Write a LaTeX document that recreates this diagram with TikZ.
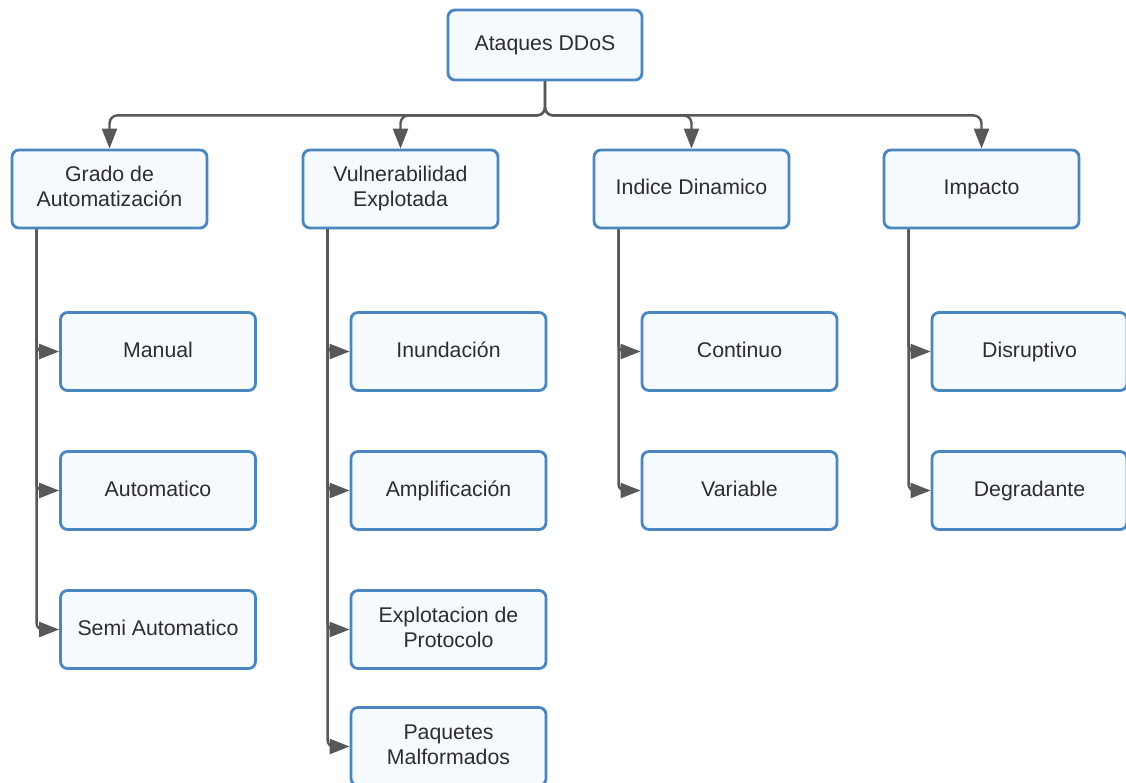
\documentclass[tikz,border=0pt]{standalone}
\usepackage{fontspec}
\setmainfont{Liberation Sans}
\usetikzlibrary{arrows.meta,calc}
\definecolor{boxedge}{RGB}{74,134,192}
\definecolor{boxfill}{RGB}{245,250,255}
\definecolor{linkgray}{RGB}{88,88,88}
\definecolor{textgray}{RGB}{45,45,45}
% two centred lines, lifted a little inside the box
\newcommand\twolines[2]{\raisebox{2pt}{\begin{tabular}{@{}c@{}}#1\\#2\end{tabular}}}
\begin{document}
\begin{tikzpicture}[x=1pt,y=-1pt,
  box/.style={draw=boxedge,fill=boxfill,line width=2.8pt,rounded corners=7pt,
    minimum width=195pt,minimum height=78pt,inner sep=0pt,
    text=textgray,font=\fontsize{21.3}{25}\selectfont},
  oneline/.style={text height=15.5pt,text depth=4.5pt},
  rootbox/.style={box,oneline,minimum width=194pt,minimum height=70pt},
  conn/.style={draw=linkgray,line width=2.4pt,rounded corners=8pt,
    -{Triangle[length=20pt,width=15pt]}},
  leaf/.style={draw=linkgray,line width=2.4pt,rounded corners=6pt,
    -{Triangle[length=20pt,width=15pt]}}]
\useasboundingbox (0,0) rectangle (1126,782);

% root
\node[rootbox] (root) at (545,45) {Ataques DDoS};

% first level
\node[box] (grado) at (109.5,189) {\twolines{Grado de}{Automatización}};
\node[box] (vuln)  at (400.5,189) {\twolines{Vulnerabilidad}{Explotada}};
\node[box,oneline] (indice) at (691.5,189) {Indice Dinamico};
\node[box,oneline] (impacto) at (981.5,189) {Impacto};

% second level
\node[box,oneline] (manual) at (158,351.5) {Manual};
\node[box,oneline] (auto)   at (158,490.5) {Automatico};
\node[box,oneline] (semi)   at (158,629.5) {Semi Automatico};

\node[box,oneline] (inund) at (448.5,351.5) {Inundación};
\node[box,oneline] (ampl)  at (448.5,490.5) {Amplificación};
\node[box] (proto) at (448.5,629.5) {\twolines{Explotacion de}{Protocolo}};
\node[box] (paq)   at (448.5,746.5) {\twolines{Paquetes}{Malformados}};

\node[box,oneline] (cont) at (739.5,351.5) {Continuo};
\node[box,oneline] (var)  at (739.5,490.5) {Variable};

\node[box,oneline] (disr) at (1029.5,351.5) {Disruptivo};
\node[box,oneline] (degr) at (1029.5,490.5) {Degradante};

% bus from the root to the categories
\coordinate (bus) at ($(root.south)+(0,34)$);
\foreach \n in {grado,vuln,indice,impacto}
  \draw[conn] (root.south) |- (bus -| \n.north) -- (\n.north);

% vertical spines to the subcategories
\foreach \p/\c in {grado/manual,grado/auto,grado/semi,
                   vuln/inund,vuln/ampl,vuln/proto,vuln/paq,
                   indice/cont,indice/var,
                   impacto/disr,impacto/degr}
  \draw[leaf] ($(\p.south west)+(26,0)$) |- (\c.west);
\end{tikzpicture}
\end{document}
